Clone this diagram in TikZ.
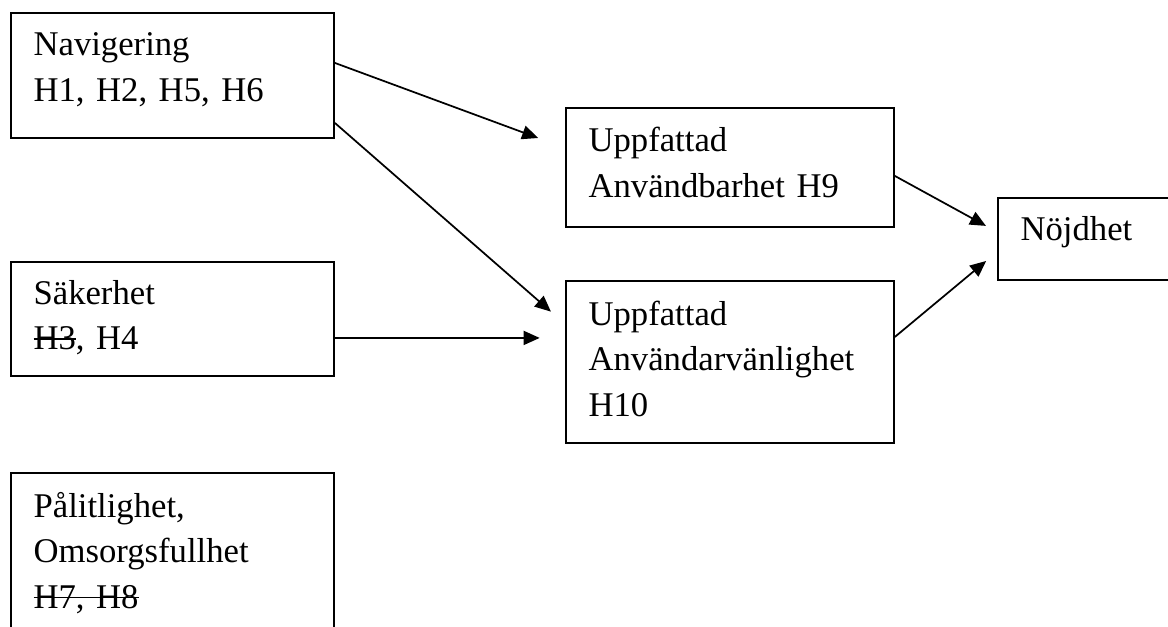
\documentclass[tikz,border=0pt]{standalone}
\usepackage{fontspec}
\setmainfont{Liberation Serif}
\usetikzlibrary{arrows.meta,calc}
\newsavebox{\strkbox}
\newcommand{\strk}[1]{\leavevmode\sbox{\strkbox}{#1}\rlap{\rule[0.28em]{\wd\strkbox}{1.2pt}}\usebox{\strkbox}}
\tikzstyle{box}=[draw, line width=1.4pt, anchor=north west, align=left, inner xsep=17pt, inner ysep=0pt, font=\fontsize{26}{34}\selectfont]
\tikzstyle{arr}=[-{Triangle[length=12pt,width=10.5pt]}, line width=1.3pt]
\tikzset{drop/.style={execute at end node={\rule[-#1]{0pt}{#1}}}}

\begin{document}
\begin{tikzpicture}[x=0.75pt, y=-0.75pt]
    \useasboundingbox (0,0) rectangle (1168,627);
    \clip (0,0) rectangle (1168,627);
% Boxes
    \node[box, drop=12.75pt, text width=208.25pt, minimum height=93.75pt] (nav) at (10,12) {Navigering\\H1, H2, H5, H6};
    \node[box, drop=6pt, text width=208.25pt, minimum height=85.5pt] (sak) at (10,261) {Säkerhet\\\strk{H3}, H4};
    \node[box, text width=208.25pt, minimum height=120pt] (pal) at (10,472) {Pålitlighet,\\Omsorgsfullhet\\\strk{H7, H8}};
    \node[box, drop=7.5pt, text width=212pt, minimum height=89.25pt] (anv) at (565,107) {Uppfattad\\Användbarhet H9};
    \node[box, drop=5pt, text width=212pt, minimum height=121.5pt] (vanl) at (565,280) {Uppfattad\\Användarvänlighet\\H10};
    \node[box, drop=15pt, text width=153.5pt, minimum height=61.5pt] (noj) at (997,197) {Nöjdhet};
% Arrows
    \draw[arr, shorten >=21.5pt] ($(nav.east)+(0,-12.5)$) -- ($(anv.west)+(0,-19.5)$);
    \draw[arr, shorten >=14pt] ($(nav.east)+(0,47.5)$) -- ($(vanl.west)+(0,-38)$);
    \draw[arr, shorten >=19pt] ($(sak.east)+(0,19)$) -- ($(vanl.west)+(0,-24)$);
    \draw[arr, shorten >=9.4pt] ($(anv.east)+(0,8.5)$) -- ($(noj.west)+(0,-7)$);
    \draw[arr, shorten >=10.6pt] ($(vanl.east)+(0,-25)$) -- ($(noj.west)+(0,13)$);
\end{tikzpicture}
\end{document}
